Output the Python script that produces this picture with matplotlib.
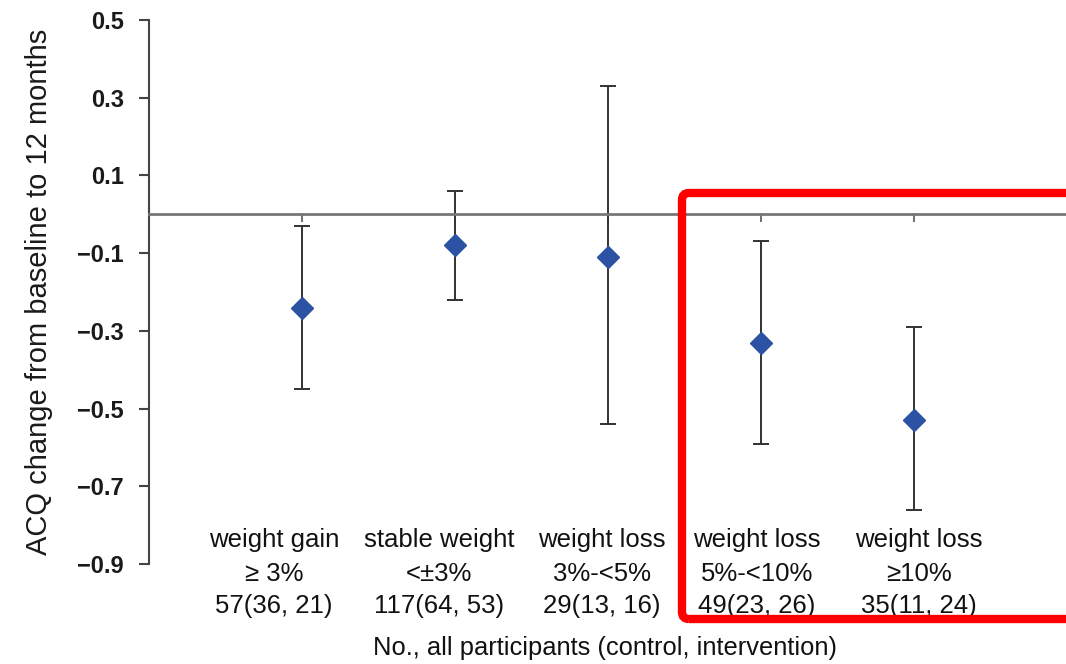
import numpy as np
import matplotlib.pyplot as plt
from matplotlib.patches import FancyBboxPatch

# datos
grupos = ["weight gain", "stable weight", "weight loss", "weight loss", "weight loss"]
rangos = ["\u2265 3%", "<\u00b13%", "3%-<5%", "5%-<10%", "\u226510%"]
conteos = ["57(36, 21)", "117(64, 53)", "29(13, 16)", "49(23, 26)", "35(11, 24)"]
media = [-0.24, -0.08, -0.11, -0.33, -0.53]
ic_bajo = [-0.45, -0.22, -0.54, -0.59, -0.76]
ic_alto = [-0.03, 0.06, 0.33, -0.07, -0.29]
yticks = [0.5, 0.3, 0.1, -0.1, -0.3, -0.5, -0.7, -0.9]

plt.rcParams['font.family'] = ['Liberation Sans', 'DejaVu Sans']

W, H = 1066, 664
fig = plt.figure(figsize=(W / 100, H / 100), dpi=100)
ax = fig.add_axes([149 / W, 1 - 564 / H, 918 / W, 544 / H])

x = np.arange(1, len(media) + 1)
media = np.array(media)
err = np.vstack([media - np.array(ic_bajo), np.array(ic_alto) - media])

ax.errorbar(x, media, yerr=err, fmt='none', ecolor='#333333',
            elinewidth=1.4, capsize=6, capthick=1.4, zorder=2)
ax.plot(x, media, linestyle='none', marker='D', markersize=11,
        color='#2B52A3', zorder=3)

ax.set_xlim(0, 6)
ax.set_ylim(-0.9, 0.5)

for s in ['top', 'right']:
    ax.spines[s].set_visible(False)
ax.spines['left'].set_color('#444444')
ax.spines['left'].set_linewidth(1.5)
ax.spines['bottom'].set_position(('data', 0))
ax.spines['bottom'].set_color('#777777')
ax.spines['bottom'].set_linewidth(2)

ax.set_xticks(x)
ax.set_xticklabels([])
ax.tick_params(axis='x', direction='out', length=6, width=1.2, color='#555555')
ax.set_yticks(yticks)
ax.set_yticklabels([f"{v:.1f}".replace('-', '\u2212') for v in yticks],
                   fontsize=17, fontweight='bold', color='#1a1a1a')
ax.tick_params(axis='y', direction='out', length=7, width=1.5, color='#444444', pad=11)

ax.set_ylabel("ACQ change from baseline to 12 months", fontsize=21, color='#1a1a1a')
ax.yaxis.set_label_coords((53 - 149) / 918, 0.5)

# etiquetas de categorias en tres lineas (centros en pixeles de la figura)
centros_px = [274, 439, 602, 757, 919]
filas = [(grupos, 540), (rangos, 574), (conteos, 606)]
for textos, ypx in filas:
    for cx, t in zip(centros_px, textos):
        fig.text(cx / W, 1 - ypx / H, t, ha='center', va='center',
                 fontsize=18.5, color='#111111')

fig.text(605 / W, 1 - 648 / H, "No., all participants (control, intervention)",
         ha='center', va='center', fontsize=18.4, color='#111111')

# recuadro rojo
caja = FancyBboxPatch((682, H - 619), 420, 426, boxstyle="round,pad=0,rounding_size=7",
                      transform=None, fill=False, edgecolor='#FF0000', linewidth=6,
                      zorder=5)
fig.patches.append(caja)

fig.savefig("out.png", dpi=100)
